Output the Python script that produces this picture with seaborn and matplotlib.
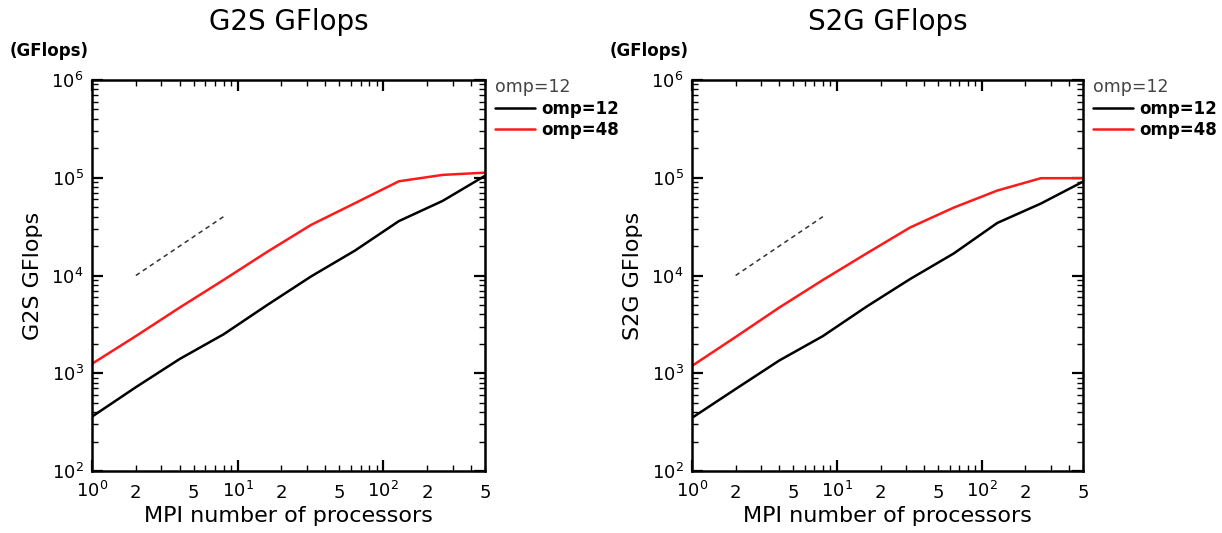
import numpy as np
import pandas as pd
import matplotlib
matplotlib.use("Agg")
import matplotlib.pyplot as plt
import seaborn as sns
from matplotlib.ticker import LogLocator, FixedLocator, FixedFormatter, NullFormatter

procs = [1, 2, 4, 8, 16, 32, 64, 128, 256, 512]
g2s_omp12 = [360, 720, 1400, 2500, 5000, 9800, 18000, 36000, 58000, 107000]
g2s_omp48 = [1250, 2400, 4700, 9000, 17500, 33000, 55000, 92000, 107000, 113000]
s2g_omp12 = [350, 690, 1350, 2400, 4800, 9200, 16800, 34500, 54500, 93000]
s2g_omp48 = [1190, 2350, 4700, 9000, 16800, 31000, 49500, 74000, 99000, 99000]
ref_x = [2, 8]
ref_y = [1e4, 4e4]
series_names = ["omp=12", "omp=48"]
titles = ["G2S GFlops", "S2G GFlops"]
x_major_ticks = [1, 10, 100]
x_major_labels = [r"$10^0$", r"$10^1$", r"$10^2$"]
x_minor_ticks = [2, 3, 4, 5, 6, 7, 8, 9, 20, 30, 40, 50, 60, 70, 80, 90, 200, 300, 400, 500]
x_minor_labels = ["2", "", "", "5", "", "", "", "", "2", "", "", "5", "", "", "", "",
                  "2", "", "", "5"]

sns.set_theme(style="ticks")
plt.rcParams['font.family'] = ['DejaVu Sans']
plt.rcParams.update({"text.color": "black", "axes.labelcolor": "black",
                     "xtick.color": "black", "ytick.color": "black"})

fig = plt.figure(figsize=(12.22, 5.33), dpi=100)
ax_pos = [[0.0753, 0.1163, 0.3216, 0.7336], [0.5663, 0.1163, 0.3200, 0.7336]]
data_sets = [(g2s_omp12, g2s_omp48), (s2g_omp12, s2g_omp48)]
palette = {"omp=12": "black", "omp=48": "#ff1a1a"}

for i, (pos, (a, b), title) in enumerate(zip(ax_pos, data_sets, titles)):
    ax = fig.add_axes(pos)
    df = pd.DataFrame({
        "procs": procs * 2,
        "val": a + b,
        "series": [series_names[0]] * len(procs) + [series_names[1]] * len(procs),
    })
    sns.lineplot(data=df, x="procs", y="val", hue="series", palette=palette,
                 linewidth=1.8, ax=ax, legend=True)
    ax.plot(ref_x, ref_y, linestyle=(0, (3, 2.5)), color="#333333", linewidth=1.1)
    ax.set_xscale("log")
    ax.set_yscale("log")
    ax.set_xlim(1, 500)
    ax.set_ylim(1e2, 1e6)
    ax.xaxis.set_major_locator(FixedLocator(x_major_ticks))
    ax.xaxis.set_major_formatter(FixedFormatter(x_major_labels))
    ax.xaxis.set_minor_locator(FixedLocator(x_minor_ticks))
    ax.xaxis.set_minor_formatter(FixedFormatter(x_minor_labels))
    ax.yaxis.set_major_locator(LogLocator(base=10, numticks=10))
    ax.yaxis.set_minor_locator(LogLocator(base=10, subs=np.arange(2, 10) * 1.0, numticks=20))
    ax.yaxis.set_minor_formatter(NullFormatter())
    ax.tick_params(which="both", direction="in", top=True, right=True, labelsize=13)
    ax.tick_params(axis="x", which="major", pad=7)
    ax.tick_params(axis="x", which="minor", pad=9)
    ax.tick_params(axis="y", which="major", pad=6)
    ax.tick_params(which="major", length=8, width=1.6)
    ax.tick_params(which="minor", length=4, width=1.0)
    for s in ax.spines.values():
        s.set_linewidth(1.8)
        s.set_color("black")
    ax.set_xlabel("MPI number of processors", fontsize=16, labelpad=3)
    ax.set_ylabel(title, fontsize=16, labelpad=6)
    ax.set_title(title, fontsize=20, pad=36)
    ax.text(-0.21, 1.075, "(GFlops)", transform=ax.transAxes, fontsize=12,
            fontweight="semibold", ha="left", va="center")
    leg = ax.legend(title="omp=12", loc="upper left", bbox_to_anchor=(1.0, 1.03),
                    frameon=False, fontsize=12, title_fontsize=12.5,
                    handlelength=2.4, handletextpad=0.35, borderaxespad=0.2,
                    labelspacing=0.2)
    leg._legend_box.align = "left"
    leg.get_title().set_color("#444444")
    for t in leg.get_texts():
        t.set_fontweight("bold")

fig.savefig("out.png", dpi=100)
